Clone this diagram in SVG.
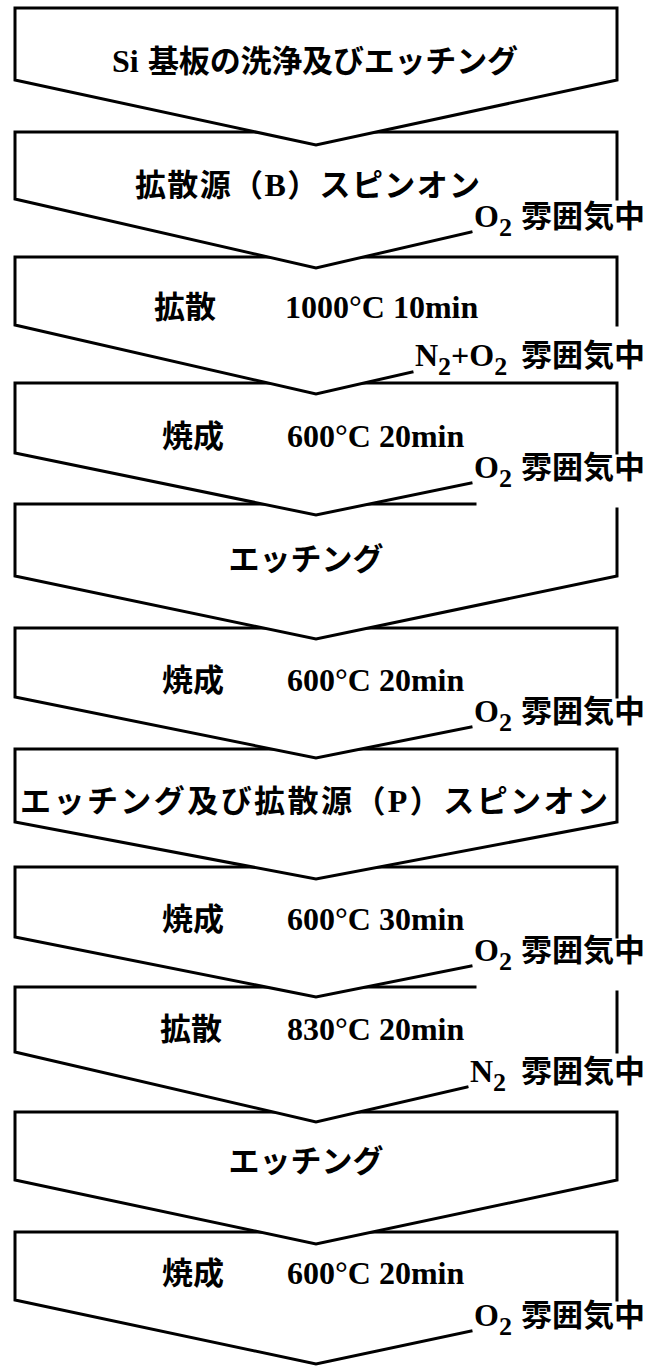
<svg xmlns="http://www.w3.org/2000/svg" width="654" height="1369" viewBox="0 0 654 1369">
<style>
.bg{fill:#fff}
.fill{fill:#fff;stroke:none}
.edge{fill:none;stroke:#000;stroke-width:3;stroke-linejoin:miter;stroke-linecap:square}
text{fill:#000}
.cjk{font-family:"Noto Sans CJK JP","Noto Sans CJK SC",sans-serif;font-weight:700;font-size:31px}
.lat{font-family:"Liberation Serif","Noto Sans CJK JP",serif;font-weight:700;font-size:32px}
.sub{font-family:"Liberation Serif",serif;font-weight:700;font-size:26px}
.lbl{font-family:"Noto Sans CJK JP","Noto Sans CJK SC",sans-serif;font-weight:700;font-size:31px}
</style>
<rect class="bg" x="0" y="0" width="654" height="1369"/>

<g id="step11">
<polygon class="fill" points="15,1232 617,1232 617,1300 316,1364 15,1300"/>
<path class="edge" d="M471,1331 L316,1364 L15,1300 L15,1232 L617,1232 L617,1300"/>
<text y="1284"><tspan class="cjk" x="162">焼成</tspan><tspan class="lat" x="287">600°C 20min</tspan></text>
<text y="1326"><tspan class="lat" x="474">O</tspan><tspan class="sub" dy="9">2</tspan><tspan class="lbl" x="521" dy="-9">雰囲気中</tspan></text>
</g>

<g id="step10">
<polygon class="fill" points="15,1112 617,1112 617,1180 316,1244 15,1180"/>
<path class="edge" d="M15,1180 L15,1112 L617,1112 L617,1180 L316,1244 Z"/>
<text class="cjk" x="306" y="1172" text-anchor="middle">エッチング</text>
</g>

<g id="step9">
<polygon class="fill" points="15,987 617,987 617,1052 316,1122 15,1052"/>
<path class="edge" d="M467,1087 L316,1122 L15,1052 L15,987 L475,987 M617,992 L617,1052"/>
<text y="1040"><tspan class="cjk" x="160">拡散</tspan><tspan class="lat" x="287">830°C 20min</tspan></text>
<text y="1082"><tspan class="lat" x="470">N</tspan><tspan class="sub" dy="9">2</tspan><tspan class="lbl" x="521" dy="-9">雰囲気中</tspan></text>
</g>

<g id="step8">
<polygon class="fill" points="15,867 617,867 617,937 316,997 15,937"/>
<path class="edge" d="M471,966 L316,997 L15,937 L15,867 L617,867 L617,937"/>
<text y="930"><tspan class="cjk" x="162">焼成</tspan><tspan class="lat" x="287">600°C 30min</tspan></text>
<text y="961"><tspan class="lat" x="474">O</tspan><tspan class="sub" dy="9">2</tspan><tspan class="lbl" x="521" dy="-9">雰囲気中</tspan></text>
</g>

<g id="step7">
<polygon class="fill" points="15,749 617,749 617,822 316,879 15,822"/>
<path class="edge" d="M15,822 L15,749 L617,749 L617,822 L316,879 Z"/>
<text class="cjk" x="20" y="812" textLength="588" lengthAdjust="spacing">エッチング及び拡散源（<tspan class="lat">P</tspan>）スピンオン</text>
</g>

<g id="step6">
<polygon class="fill" points="15,628 617,628 617,697 316,758 15,697"/>
<path class="edge" d="M471,727 L316,758 L15,697 L15,628 L617,628 L617,697"/>
<text y="691"><tspan class="cjk" x="162">焼成</tspan><tspan class="lat" x="287">600°C 20min</tspan></text>
<text y="722"><tspan class="lat" x="474">O</tspan><tspan class="sub" dy="9">2</tspan><tspan class="lbl" x="521" dy="-9">雰囲気中</tspan></text>
</g>

<g id="step5">
<polygon class="fill" points="15,504 617,504 617,576 316,639 15,576"/>
<path class="edge" d="M617,509 L617,576 L316,639 L15,576 L15,504 L475,504"/>
<text class="cjk" x="306" y="570" text-anchor="middle">エッチング</text>
</g>

<g id="step4">
<polygon class="fill" points="15,383 617,383 617,453 316,515 15,453"/>
<path class="edge" d="M471,483 L316,515 L15,453 L15,383 L617,383 L617,453"/>
<text y="447"><tspan class="cjk" x="162">焼成</tspan><tspan class="lat" x="287">600°C 20min</tspan></text>
<text y="478"><tspan class="lat" x="474">O</tspan><tspan class="sub" dy="9">2</tspan><tspan class="lbl" x="521" dy="-9">雰囲気中</tspan></text>
</g>

<g id="step3">
<polygon class="fill" points="15,257 617,257 617,325 316,394 15,325"/>
<path class="edge" d="M412,372 L316,394 L15,325 L15,257 L617,257 L617,325"/>
<text y="318"><tspan class="cjk" x="154">拡散</tspan><tspan class="lat" x="285">1000°C 10min</tspan></text>
<text y="366"><tspan class="lat" x="415">N</tspan><tspan class="sub" dy="9">2</tspan><tspan class="lat" dy="-9">+O</tspan><tspan class="sub" dy="9">2</tspan><tspan class="lbl" x="521" dy="-9">雰囲気中</tspan></text>
</g>

<g id="step2">
<polygon class="fill" points="15,132 617,132 617,199 316,268 15,199"/>
<path class="edge" d="M471,232 L316,268 L15,199 L15,132 L617,132 L617,199"/>
<text class="cjk" x="135" y="196" textLength="345" lengthAdjust="spacing">拡散源（<tspan class="lat">B</tspan>）スピンオン</text>
<text y="227"><tspan class="lat" x="474">O</tspan><tspan class="sub" dy="9">2</tspan><tspan class="lbl" x="521" dy="-9">雰囲気中</tspan></text>
</g>

<g id="step1">
<polygon class="fill" points="15,8 617,8 617,80 316,145 15,80"/>
<path class="edge" d="M15,80 L15,8 L617,8 L617,80 L316,145 Z"/>
<text x="112" y="72"><tspan class="lat">Si</tspan></text>
<text class="cjk" x="148" y="72" textLength="370" lengthAdjust="spacing">基板の洗浄及びエッチング</text>
</g>

<g id="connectors"></g>
</svg>
